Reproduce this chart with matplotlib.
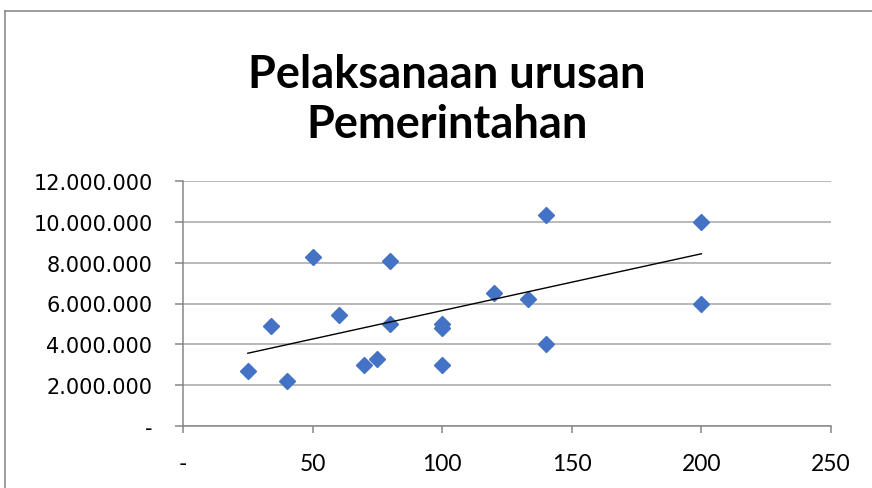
import matplotlib
matplotlib.use("Agg")
import matplotlib.pyplot as plt
from matplotlib.lines import Line2D
from matplotlib.ticker import FuncFormatter

# Data
x_vals = [25, 34, 40, 50, 60, 70, 75, 80, 80, 100, 100, 100, 120, 133, 140, 140, 200, 200]
y_vals = [2700000, 4900000, 2200000, 8250000, 5450000, 3000000, 3300000, 8100000, 5000000,
          5000000, 4800000, 3000000, 6500000, 6200000, 10300000, 4000000, 10000000, 6000000]
# Linear trendline as drawn in the chart (end points)
trend_x = [25, 200]
trend_y = [3570000, 8430000]
title_lines = ["Pelaksanaan urusan", "Pemerintahan"]
x_ticks = [0, 50, 100, 150, 200, 250]
y_ticks = [0, 2000000, 4000000, 6000000, 8000000, 10000000, 12000000]

plt.rcParams['font.family'] = ['Lato', 'DejaVu Sans']

W, H = 872, 489
fig = plt.figure(figsize=(W / 100, H / 100), dpi=100)
fig.patch.set_facecolor('white')

ax = fig.add_axes([183 / W, 1 - 427.3 / H, (831 - 183) / W, (427.3 - 181.7) / H])
ax.set_xlim(0, 250)
ax.set_ylim(0, 12000000)

grid_c = '#a6a6a6'
axis_c = '#868686'
ax.set_yticks(y_ticks)
ax.set_xticks(x_ticks)
ax.yaxis.grid(True, color=grid_c, linewidth=1.1)
ax.set_axisbelow(True)
for s in ['top', 'right']:
    ax.spines[s].set_visible(False)
for s in ['left', 'bottom']:
    ax.spines[s].set_color(axis_c)
    ax.spines[s].set_linewidth(1.1)

def fmt_y(v, pos):
    if v == 0:
        return '-'
    return f"{int(v):,}".replace(',', '.')

def fmt_x(v, pos):
    if v == 0:
        return '-'
    return f"{int(v)}"

ax.yaxis.set_major_formatter(FuncFormatter(fmt_y))
ax.xaxis.set_major_formatter(FuncFormatter(fmt_x))
ax.tick_params(axis='y', length=6, color=axis_c, width=1.1, pad=16, labelcolor='black',
               labelsize=15, labelfontfamily='DejaVu Sans')
ax.tick_params(axis='x', length=5, color=axis_c, width=1.1, pad=14, labelcolor='black',
               labelsize=16.5, labelfontfamily='Lato')

ax.plot(x_vals, y_vals, linestyle='none', marker='D', markersize=8.5,
        markerfacecolor='#4472C4', markeredgecolor='#4472C4', zorder=3)

ax.plot(trend_x, trend_y, color='black', linewidth=1.0, zorder=4)

# Title
fig.text(447 / W, 1 - 88 / H, title_lines[0], ha='center', va='baseline',
         fontsize=32.5, fontweight='bold')
fig.text(447 / W, 1 - 138 / H, title_lines[1], ha='center', va='baseline',
         fontsize=32.5, fontweight='bold')

# Chart area border (partially visible)
border_c = '#8c8c8c'
fig.add_artist(Line2D([5 / W, 5 / W], [0, 1 - 11.5 / H], color=border_c, linewidth=1.2,
                      transform=fig.transFigure))
fig.add_artist(Line2D([5 / W, 1], [1 - 11.5 / H, 1 - 11.5 / H], color=border_c, linewidth=1.2,
                      transform=fig.transFigure))

fig.savefig('out.png', dpi=100)
